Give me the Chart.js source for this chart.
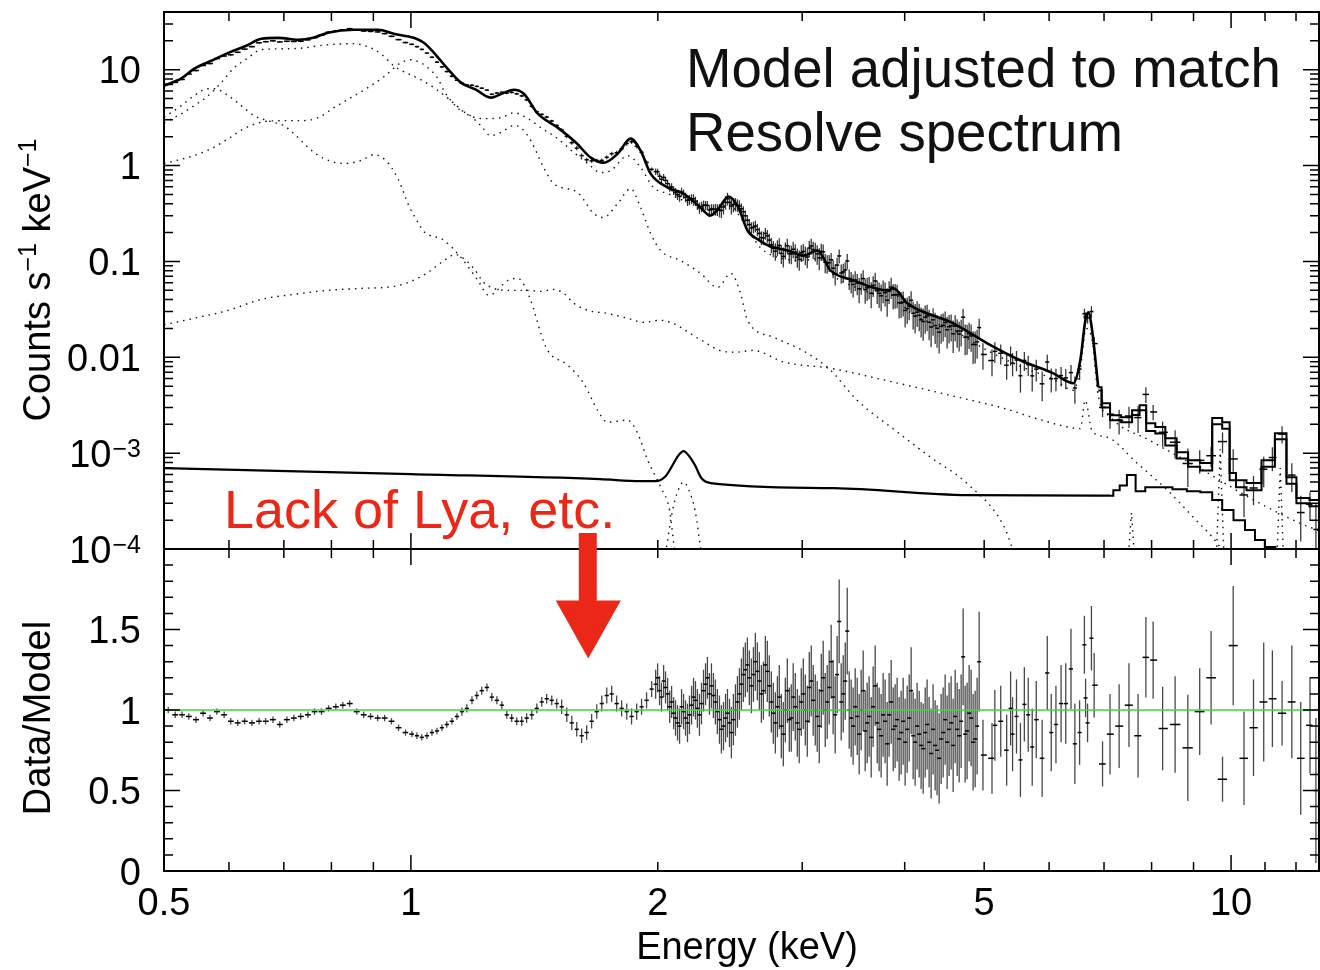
<!DOCTYPE html>
<html>
<head>
<meta charset="utf-8">
<title>Resolve spectrum</title>
<script src="https://cdn.jsdelivr.net/npm/chart.js@4.4.1/dist/chart.umd.min.js"></script>
<style>
  html, body { margin: 0; padding: 0; background: #fff; }
  #wrap { position: relative; width: 1320px; height: 970px; overflow: hidden; background: #fff; }
  canvas { position: absolute; left: 0; }
  #top { top: 0; }
  #bottom { top: 530px; }
</style>
</head>
<body>
<div id="wrap">
  <canvas id="top" width="1320" height="580"></canvas>
  <canvas id="bottom" width="1320" height="440"></canvas>
</div>
<script>
// ---- observed spectrum (bin centre energies, keV) ----
const energy = [
  0.506, 0.516, 0.526, 0.536, 0.547, 0.558, 0.569, 0.580, 0.592, 0.603,
  0.615, 0.627, 0.640, 0.653, 0.665, 0.679, 0.692, 0.706, 0.720, 0.734,
  0.749, 0.763, 0.778, 0.794, 0.810, 0.826, 0.842, 0.859, 0.876, 0.893,
  0.911, 0.929, 0.947, 0.966, 0.985,
  1.003, 1.017, 1.031, 1.046, 1.061, 1.076, 1.091, 1.106, 1.122, 1.138,
  1.154, 1.170, 1.187, 1.203, 1.220, 1.238, 1.255, 1.273, 1.291, 1.309,
  1.327, 1.346, 1.365, 1.384, 1.404, 1.424, 1.444, 1.464, 1.485, 1.506,
  1.527, 1.549, 1.571, 1.593, 1.615, 1.638, 1.661, 1.685, 1.709, 1.733,
  1.757, 1.782, 1.807, 1.833, 1.858, 1.885, 1.911, 1.938, 1.966,
  1.988, 2.010, 2.033, 2.056, 2.079, 2.102, 2.126, 2.150, 2.174, 2.199,
  2.223, 2.248, 2.274, 2.299, 2.325, 2.351, 2.378, 2.405, 2.432, 2.459,
  2.487, 2.515, 2.543, 2.572, 2.601, 2.630, 2.660, 2.690, 2.720, 2.751,
  2.782, 2.813, 2.845, 2.877, 2.909, 2.942, 2.975, 3.009, 3.043, 3.077,
  3.112, 3.147, 3.182, 3.218, 3.254, 3.291, 3.328, 3.366, 3.404, 3.442,
  3.481, 3.520, 3.560, 3.600, 3.641, 3.682, 3.723, 3.765, 3.808, 3.851,
  3.894, 3.938, 3.983, 4.028, 4.073, 4.119, 4.166, 4.213, 4.260, 4.308,
  4.357, 4.406, 4.456, 4.506, 4.557, 4.609, 4.661, 4.713, 4.766, 4.820,
  4.875, 4.930,
  4.983, 5.111, 5.152, 5.238, 5.326, 5.385, 5.415, 5.475, 5.536, 5.597,
  5.658, 5.722, 5.787, 5.884, 5.969, 6.036, 6.116, 6.205, 6.287, 6.380,
  6.450, 6.536, 6.625, 6.647, 6.684, 6.757, 6.809, 6.971, 7.119, 7.303,
  7.508, 7.702, 7.873, 8.035, 8.252, 8.546, 8.857, 9.157, 9.455, 9.763,
  10.06, 10.37, 10.65, 10.96, 11.23, 11.54, 11.86, 12.16, 12.48, 12.69
];

// counts s^-1 keV^-1
const counts = [
  7.10, 7.38, 7.91, 9.01, 9.81, 11.07, 11.6, 13.07, 13.9, 14.3,
  15.2, 16.4, 17.4, 19.1, 19.6, 20.0, 19.5, 19.8, 19.7, 19.8,
  20.5, 21.6, 22.9, 24.6, 25.3, 26.1, 26.8, 25.8, 25.3, 25.1,
  24.8, 23.8, 22.3, 20.6, 19.2,
  18.4, 17.4, 16.3, 14.9, 13.5, 12.0, 10.7, 9.57, 8.55, 7.77,
  7.21, 6.93, 6.88, 6.70, 6.42, 6.13, 5.54, 5.71, 5.81, 5.70,
  5.80, 5.60, 5.33, 4.85, 4.15, 3.64, 3.42, 3.21, 2.92, 2.62,
  2.35, 2.02, 1.73, 1.52, 1.27, 1.15, 1.12, 1.13, 1.13, 1.22,
  1.33, 1.36, 1.50, 1.70, 1.77, 1.59, 1.37, 1.08, 0.914,
  0.865, 0.776, 0.754, 0.649, 0.597, 0.522, 0.477, 0.506, 0.435, 0.449,
  0.425, 0.362, 0.386, 0.384, 0.353, 0.351, 0.343, 0.370, 0.451, 0.378,
  0.396, 0.378, 0.330, 0.269, 0.223, 0.234, 0.196, 0.176, 0.185, 0.149,
  0.128, 0.147, 0.113, 0.146, 0.120, 0.125, 0.105, 0.127, 0.111, 0.145,
  0.128, 0.109, 0.126, 0.0953, 0.104, 0.0745, 0.114, 0.0777, 0.101, 0.0618,
  0.0640, 0.0518, 0.0662, 0.0530, 0.0465, 0.0626, 0.0465, 0.0499, 0.0394, 0.0540,
  0.0451, 0.0371, 0.0376, 0.0322, 0.0393, 0.0269, 0.0274, 0.0236, 0.0270, 0.0207,
  0.0214, 0.0183, 0.0216, 0.0194, 0.0213, 0.0211, 0.0175, 0.0262, 0.0162, 0.0167,
  0.0136, 0.0204,
  0.0107, 0.00925, 0.01153, 0.01101, 0.00825, 0.01057, 0.00868, 0.00938, 0.00642, 0.00927,
  0.00837, 0.0064, 0.00752, 0.00529, 0.00893, 0.00596, 0.0060, 0.00645, 0.0061, 0.00692,
  0.00478, 0.00753, 0.0285, 0.0264, 0.0258, 0.030, 0.0139, 0.0030, 0.00255, 0.0022,
  0.00244, 0.00235, 0.0041, 0.00269, 0.00165, 0.0013, 0.00078, 0.00084, 0.00094, 0.00132,
  0.00087, 0.000366, 0.000433, 0.00068, 0.0009, 0.00158, 0.00059, 0.00024, 0.000293, 0.00016
];

// data / model
const ratio = [
  1.00, 0.97, 0.97, 0.96, 0.94, 0.98, 0.95, 0.99, 0.97, 0.93,
  0.92, 0.93, 0.92, 0.93, 0.93, 0.94, 0.91, 0.94, 0.95, 0.96,
  0.97, 0.99, 0.99, 1.01, 1.02, 1.03, 1.04, 0.99, 0.97, 0.96,
  0.95, 0.95, 0.93, 0.89, 0.86,
  0.85, 0.84, 0.83, 0.84, 0.86, 0.87, 0.89, 0.91, 0.93, 0.96,
  0.99, 1.01, 1.06, 1.09, 1.12, 1.14, 1.08, 1.06, 1.03, 0.97,
  0.95, 0.93, 0.93, 0.95, 0.97, 1.01, 1.05, 1.07, 1.06, 1.04,
  1.02, 0.97, 0.92, 0.88, 0.84, 0.86, 0.93, 0.99, 1.04, 1.09,
  1.10, 1.04, 1.01, 0.99, 0.96, 0.99, 1.02, 1.06, 1.13,
  1.16, 1.12, 1.18, 1.10, 1.05, 0.95, 0.90, 0.99, 0.92, 1.03,
  1.06, 0.97, 1.12, 1.20, 1.15, 1.05, 0.94, 0.90, 0.98, 0.86,
  1.00, 1.10, 1.22, 1.28, 1.15, 1.30, 1.18, 1.12, 1.24, 1.05,
  0.92, 1.08, 0.85, 1.12, 0.95, 1.02, 0.88, 1.10, 0.93, 1.18,
  1.00, 0.90, 1.20, 1.05, 1.30, 0.97, 1.55, 1.10, 1.49, 0.95,
  1.02, 0.85, 1.12, 0.92, 0.83, 1.15, 0.88, 0.97, 0.79, 1.05,
  0.90, 0.82, 0.93, 0.88, 1.12, 0.80, 0.85, 0.76, 0.91, 0.73,
  0.78, 0.70, 0.86, 0.80, 0.92, 0.96, 0.84, 1.33, 0.87, 0.95,
  0.82, 1.30,
  0.72, 0.70, 0.905, 0.93, 0.75, 1.01, 0.85, 0.96, 0.69, 1.035,
  0.97, 0.77, 0.94, 0.70, 1.23, 0.86, 0.91, 1.04, 1.04, 1.255,
  0.79, 0.86, 1.405, 1.075, 0.92, 1.446, 1.154, 0.665, 0.85, 0.90,
  1.03, 0.84, 1.327, 1.31, 0.885, 0.91, 0.765, 0.99, 1.20, 0.57,
  1.40, 0.70, 0.89, 1.05, 1.07, 0.98, 1.05, 0.70, 0.905, 0.50
];

// 1-sigma error on data / model
const ratioErr = [
  0.02, 0.02, 0.02, 0.02, 0.02, 0.02, 0.02, 0.02, 0.02, 0.02,
  0.02, 0.02, 0.02, 0.02, 0.02, 0.02, 0.02, 0.02, 0.02, 0.02,
  0.02, 0.02, 0.02, 0.02, 0.02, 0.02, 0.02, 0.02, 0.02, 0.02,
  0.02, 0.02, 0.02, 0.02, 0.02,
  0.02, 0.02, 0.02, 0.02, 0.02, 0.02, 0.02, 0.02, 0.02, 0.02,
  0.025, 0.025, 0.025, 0.025, 0.025, 0.025, 0.025, 0.025, 0.025, 0.025,
  0.025, 0.025, 0.03, 0.03, 0.03, 0.03, 0.03, 0.03, 0.03, 0.03,
  0.045, 0.045, 0.045, 0.045, 0.045, 0.045, 0.045, 0.045, 0.05, 0.05,
  0.05, 0.05, 0.05, 0.05, 0.05, 0.05, 0.05, 0.05, 0.05,
  0.09, 0.09, 0.10, 0.10, 0.10, 0.11, 0.11, 0.11, 0.12, 0.12,
  0.12, 0.13, 0.13, 0.13, 0.14, 0.14, 0.15, 0.15, 0.15, 0.16,
  0.16, 0.16, 0.17, 0.17, 0.17, 0.18, 0.18, 0.18, 0.19, 0.19,
  0.19, 0.20, 0.20, 0.20, 0.21, 0.21, 0.21, 0.22, 0.22, 0.22,
  0.22, 0.23, 0.23, 0.23, 0.23, 0.24, 0.26, 0.24, 0.27, 0.24,
  0.24, 0.25, 0.25, 0.25, 0.25, 0.25, 0.26, 0.26, 0.26, 0.26,
  0.26, 0.26, 0.27, 0.27, 0.27, 0.27, 0.27, 0.28, 0.28, 0.28,
  0.28, 0.28, 0.28, 0.29, 0.29, 0.29, 0.29, 0.30, 0.30, 0.30,
  0.30, 0.31,
  0.22, 0.22, 0.22, 0.22, 0.22, 0.23, 0.23, 0.23, 0.23, 0.23,
  0.23, 0.24, 0.24, 0.24, 0.23, 0.24, 0.24, 0.24, 0.25, 0.25,
  0.25, 0.20, 0.18, 0.12, 0.12, 0.20, 0.20, 0.14, 0.25, 0.26,
  0.26, 0.26, 0.25, 0.24, 0.26, 0.30, 0.33, 0.27, 0.29, 0.14,
  0.37, 0.29, 0.30, 0.37, 0.30, 0.20, 0.35, 0.35, 0.30, 0.45
];

// second set of bins, interleaved with the ones above between 2 and 4.9 keV
const energyAlt = [
  1.999, 2.021, 2.044, 2.068, 2.091, 2.114, 2.138, 2.162, 2.186, 2.211,
  2.235, 2.261, 2.287, 2.312, 2.338, 2.364, 2.391, 2.419, 2.446, 2.473,
  2.501, 2.529, 2.557, 2.586, 2.616, 2.645, 2.675, 2.705, 2.735, 2.766,
  2.798, 2.829, 2.861, 2.893, 2.925, 2.959, 2.992, 3.026, 3.060, 3.094,
  3.129, 3.165, 3.200, 3.236, 3.272, 3.309, 3.347, 3.385, 3.423, 3.461,
  3.501, 3.540, 3.580, 3.620, 3.661, 3.703, 3.744, 3.786, 3.829, 3.873,
  3.916, 3.960, 4.005, 4.051, 4.096, 4.142, 4.189, 4.237, 4.284, 4.332,
  4.381, 4.431, 4.481, 4.531, 4.583, 4.635, 4.687, 4.740, 4.793, 4.847,
  4.902
];
const countsAlt = [
  0.863, 0.718, 0.700, 0.591, 0.548, 0.497, 0.530, 0.467, 0.440, 0.451,
  0.391, 0.373, 0.385, 0.344, 0.349, 0.346, 0.341, 0.413, 0.414, 0.392,
  0.386, 0.354, 0.299, 0.242, 0.228, 0.215, 0.177, 0.196, 0.167, 0.137,
  0.140, 0.121, 0.131, 0.120, 0.134, 0.111, 0.123, 0.117, 0.138, 0.133,
  0.120, 0.127, 0.098, 0.0972, 0.0848, 0.0917, 0.0757, 0.0815, 0.0663, 0.0575,
  0.0593, 0.060, 0.0507, 0.0545, 0.0563, 0.0493, 0.0438, 0.0471, 0.0491, 0.0446,
  0.0448, 0.0368, 0.0308, 0.0340, 0.0288, 0.0296, 0.0246, 0.0261, 0.0232, 0.0246,
  0.0201, 0.0210, 0.0231, 0.0208, 0.0176, 0.0188, 0.0188, 0.0162, 0.0176, 0.0136,
  0.0145
];
const ratioAlt = [
  1.20, 1.08, 1.14, 1.02, 0.98, 0.92, 1.02, 0.95, 0.97, 1.08,
  1.01, 1.04, 1.16, 1.10, 1.09, 0.99, 0.88, 0.95, 0.92, 0.94,
  1.05, 1.16, 1.25, 1.20, 1.22, 1.24, 1.10, 1.28, 1.15, 0.98,
  1.02, 0.90, 1.00, 0.94, 1.08, 0.92, 1.05, 1.00, 1.14, 1.06,
  0.96, 1.12, 1.00, 1.14, 1.08, 1.22, 1.05, 1.18, 1.00, 0.90,
  0.96, 1.00, 0.87, 0.96, 1.02, 0.92, 0.84, 0.93, 0.97, 0.88,
  0.94, 0.86, 0.80, 0.95, 0.84, 0.90, 0.78, 0.86, 0.80, 0.88,
  0.75, 0.82, 0.94, 0.88, 0.78, 0.88, 0.93, 0.85, 0.98, 0.80,
  0.90
];
const ratioErrAlt = [
  0.09, 0.09, 0.10, 0.10, 0.10, 0.11, 0.11, 0.11, 0.12, 0.12,
  0.12, 0.13, 0.13, 0.13, 0.14, 0.14, 0.15, 0.15, 0.15, 0.16,
  0.16, 0.16, 0.17, 0.17, 0.17, 0.18, 0.18, 0.18, 0.19, 0.19,
  0.19, 0.20, 0.20, 0.20, 0.21, 0.21, 0.21, 0.22, 0.22, 0.22,
  0.22, 0.23, 0.23, 0.23, 0.23, 0.24, 0.24, 0.24, 0.24, 0.24,
  0.24, 0.25, 0.25, 0.25, 0.25, 0.25, 0.26, 0.26, 0.26, 0.26,
  0.26, 0.26, 0.27, 0.27, 0.27, 0.27, 0.27, 0.28, 0.28, 0.28,
  0.28, 0.28, 0.28, 0.29, 0.29, 0.29, 0.29, 0.30, 0.30, 0.30,
  0.30
];

// ---- total model, smooth part ----
const modelE = [
  0.500, 0.525, 0.544, 0.571, 0.599, 0.630, 0.657, 0.689, 0.729, 0.760,
  0.792, 0.852, 0.912, 0.953, 1.008, 1.037, 1.067, 1.109, 1.151, 1.200,
  1.251, 1.298, 1.335, 1.373, 1.428, 1.510, 1.589, 1.657, 1.718, 1.787,
  1.853, 1.906, 1.960, 2.056, 2.150, 2.255, 2.319, 2.372, 2.439, 2.508,
  2.573, 2.660, 2.745, 2.879, 3.011, 3.131, 3.248, 3.464, 3.811, 3.876,
  4.031, 4.585, 5.044, 5.534, 6.071, 6.422, 6.549, 6.643, 6.699, 6.770,
  6.887
];
const modelRate = [
  6.8, 8.1, 10.2, 12.4, 15.0, 17.8, 21.0, 21.5, 20.5, 21.5,
  24.3, 26.1, 26.1, 23.7, 21.5, 19.1, 15.0, 10.2, 7.33, 6.19,
  5.11, 5.75, 6.19, 5.62, 3.48, 2.49, 1.74, 1.21, 1.07, 1.33,
  1.91, 1.43, 0.825, 0.590, 0.511, 0.365, 0.301, 0.356, 0.475, 0.365,
  0.210, 0.166, 0.143, 0.130, 0.115, 0.130, 0.0806, 0.0634, 0.0499, 0.0523,
  0.0365, 0.0226, 0.0140, 0.0093, 0.0068, 0.00536, 0.0093, 0.0243, 0.0294, 0.0191,
  0.00487
];
// total model above 6.9 keV, binned (two response versions)
const histE = [6.887, 7.02, 7.22, 7.47, 7.68, 7.79, 7.97, 8.20, 8.43, 8.74, 8.99,
  9.35, 9.62, 9.89, 10.03, 10.25, 10.64, 11.15, 11.47, 11.90, 12.13, 12.8];
const histA = [0.00487, 0.00332, 0.00249, 0.00237, 0.0028, 0.00316, 0.00205, 0.00187, 0.00143, 0.00102, 0.000845,
  0.000787, 0.00232, 0.0021, 0.00062, 0.000523, 0.000487, 0.000845, 0.00161, 0.00056, 0.00034, 0.000324];
const histB = [0.0045, 0.0030, 0.0022, 0.0021, 0.0025, 0.0028, 0.0017, 0.0016, 0.0012, 0.00088, 0.00072,
  0.00066, 0.0020, 0.0018, 0.00052, 0.00044, 0.00041, 0.00072, 0.0014, 0.00048, 0.00030, 0.00028];

// ---- background model ----
const bkgE = [0.5, 1.0, 1.70, 1.906, 1.988, 2.044, 2.085, 2.12, 2.15, 2.18, 2.22, 2.26, 2.32, 3.28, 4.77, 7.12];
const bkgRate = [6.98e-4, 6.04e-4, 5.36e-4, 5.10e-4, 5.10e-4, 5.75e-4, 7.5e-4, 9.5e-4, 1.05e-3, 9.5e-4,
  7.5e-4, 5.5e-4, 4.87e-4, 4.31e-4, 3.65e-4, 3.6e-4];
const bkgHistE = [7.12, 7.25, 7.38, 7.55, 7.75, 7.97, 8.3, 8.67, 9.0, 9.35, 9.62, 9.89, 10.25, 10.55, 10.84, 11.15, 11.5];
const bkgHist = [3.6e-4, 4.1e-4, 4.6e-4, 5.9e-4, 4.0e-4, 4.4e-4, 4.4e-4, 4.2e-4, 4.0e-4, 3.9e-4,
  3.24e-4, 2.55e-4, 2.0e-4, 1.58e-4, 1.24e-4, 1.05e-4, 8e-5];

// ---- model components (dotted) ----
const hotE = [0.500, 0.525, 0.544, 0.566, 0.587, 0.609, 0.633, 0.657, 0.720, 0.792,
  0.852, 0.886, 0.919, 0.953, 0.992, 1.028, 1.067, 1.119, 1.173, 1.227,
  1.287, 1.335, 1.389, 1.440, 1.510, 1.581, 1.643, 1.704, 1.753, 1.838,
  1.906, 1.976, 2.056, 2.150, 2.255, 2.319, 2.386, 2.439, 2.523, 2.595,
  2.666, 2.745, 2.985, 3.16, 3.29, 3.464, 3.811, 3.89, 4.031, 4.585,
  5.044, 5.534, 6.071, 6.422, 6.549, 6.66, 6.77, 6.887, 7.12, 7.97,
  9.17, 10.55, 12.13, 12.8];
const hotRate = [2.80, 3.47, 4.21, 5.36, 7.31, 10.5, 13.3, 16.2, 16.6, 18.2,
  18.7, 17.4, 14.7, 11.0, 9.08, 7.87, 6.49, 4.75, 3.40, 3.09,
  3.16, 3.56, 3.09, 2.49, 1.91, 1.36, 1.05, 0.845, 0.887, 1.27,
  0.953, 0.590, 0.511, 0.431, 0.356, 0.294, 0.340, 0.402, 0.287, 0.196,
  0.140, 0.118, 0.102, 0.107, 0.069, 0.0549, 0.0431, 0.0453, 0.0309, 0.0191,
  0.0118, 0.00805, 0.0059, 0.00453, 0.00768, 0.0200, 0.0150, 0.00398, 0.0024, 0.00135,
  0.00069, 0.00034, 0.000186, 0.000155];

const warmE = [0.500, 0.544, 0.571, 0.599, 0.626, 0.662, 0.700, 0.735, 0.771, 0.806,
  0.845, 0.886, 0.927, 0.972, 1.000, 1.028, 1.049, 1.079, 1.097, 1.119,
  1.151, 1.173, 1.217, 1.251, 1.287, 1.335, 1.361, 1.400, 1.452, 1.493,
  1.597, 1.671, 1.718, 1.787, 1.853, 1.906, 1.960, 2.016, 2.133, 2.255,
  2.366, 2.455, 2.523, 2.573, 2.768, 3.045, 3.248, 3.50, 3.89, 4.30,
  4.76, 5.29, 5.41, 5.5];
const warmRate = [1.05, 1.27, 1.50, 1.91, 2.43, 2.87, 2.94, 2.94, 3.16, 4.02,
  5.11, 6.49, 8.45, 11.8, 12.7, 11.8, 10.5, 8.06, 6.04, 4.75,
  3.74, 3.48, 2.61, 2.05, 2.21, 2.61, 2.49, 1.82, 0.953, 0.649,
  0.524, 0.316, 0.287, 0.402, 0.575, 0.365, 0.196, 0.130, 0.102, 0.0750,
  0.0536, 0.0750, 0.0464, 0.0243, 0.0162, 0.0110, 0.00733, 0.00356, 0.00174, 0.000908,
  0.000487, 0.000170, 0.000102, 0.00007];

const coolE = [0.500, 0.525, 0.544, 0.566, 0.575, 0.599, 0.621, 0.644, 0.675, 0.700,
  0.720, 0.741, 0.762, 0.784, 0.829, 0.869, 0.902, 0.932, 0.964, 0.994,
  1.020, 1.037, 1.097, 1.151, 1.207, 1.245, 1.313, 1.350, 1.400, 1.440,
  1.468, 1.553, 1.624, 1.689, 1.737, 1.838, 1.890, 1.944, 2.016, 2.067,
  2.095, 2.11];
const coolRate = [3.2, 4.22, 5.36, 6.34, 6.34, 5.36, 4.22, 3.32, 2.87, 2.61,
  2.15, 1.69, 1.37, 1.18, 1.05, 1.13, 1.30, 1.13, 0.733, 0.383,
  0.255, 0.205, 0.166, 0.110, 0.0634, 0.0443, 0.0634, 0.0665, 0.0393, 0.0178,
  0.0118, 0.00826, 0.00536, 0.0028, 0.0021, 0.00221, 0.00161, 0.000845, 0.000443, 0.000255,
  0.000102, 0.00007];

const softE = [0.500, 0.544, 0.599, 0.657, 0.720, 0.792, 0.869, 0.953, 1.000, 1.049,
  1.097, 1.134, 1.160, 1.193, 1.227, 1.262, 1.324, 1.389, 1.440, 1.493,
  1.536, 1.581, 1.643, 1.737, 1.838, 1.922, 2.016, 2.262, 2.378, 2.489,
  2.610, 2.856, 3.248, 3.79, 4.65, 5.28, 5.72, 6.33, 6.55, 6.64,
  6.77, 7.06, 7.68, 8.36, 8.99, 9.62, 9.8];
const softRate = [0.0218, 0.0255, 0.0309, 0.0402, 0.0453, 0.0499, 0.0523, 0.0549, 0.0619, 0.0768,
  0.102, 0.118, 0.107, 0.0845, 0.0604, 0.0523, 0.0499, 0.0499, 0.0487, 0.0511,
  0.0464, 0.0365, 0.0309, 0.0287, 0.0255, 0.0232, 0.0243, 0.0150, 0.0118, 0.0113,
  0.0118, 0.00887, 0.00768, 0.00575, 0.00383, 0.00294, 0.00237, 0.00187, 0.00180, 0.00356,
  0.0017, 0.00147, 0.000787, 0.000412, 0.000215, 0.000115, 0.00009];

// background Gaussian at 2.15 keV and narrow lines
const gaussE = [2.044, 2.085, 2.12, 2.15, 2.18, 2.22, 2.26];
const gaussRate = [0.00009, 0.000255, 0.00042, 0.0005, 0.00042, 0.000255, 0.00009];
const narrowE = [7.50, 7.56, 7.62, 7.62, 9.60, 9.70, 9.80, 9.80, 11.38, 11.48, 11.58];
const narrowRate = [0.00009, 0.00024, 0.00009, null, 0.00009, 0.0011, 0.00009, null, 0.00009, 0.0007, 0.00009];

// ---- axes ----
const xTickValues = [0.5, 1, 2, 5, 10];
const xTickLabels = ['0.5', '1', '2', '5', '10'];
const countTickValues = [10, 1, 0.1, 0.01, 1e-3, 1e-4];
const countTickLabels = ['10', '1', '0.1', '0.01', '10^-3', '10^-4'];
const ratioTickValues = [1.5, 1, 0.5, 0];
const ratioTickLabels = ['1.5', '1', '0.5', '0'];

const FONT = '"Liberation Sans", Arial, Helvetica, sans-serif';
const RED = '#eb2818';

function pts(xs, ys) { return xs.map((x, i) => ({ x: x, y: ys[i] })); }

function curve(xs, ys, extra) {
  return Object.assign({
    data: pts(xs, ys), borderColor: '#000', borderWidth: 2.4, pointRadius: 0,
    cubicInterpolationMode: 'monotone', clip: 0, fill: false
  }, extra || {});
}
const dotted = { borderDash: [1.5, 5], borderWidth: 1.4, borderColor: '#111' };

// error bars drawn under the datasets
const errorBars = {
  id: 'errorBars',
  beforeDatasetsDraw(chart) {
    const { ctx, chartArea: a } = chart;
    const ys = chart.scales.y;
    ctx.save();
    ctx.beginPath();
    ctx.rect(a.left, a.top, a.right - a.left, a.bottom - a.top);
    ctx.clip();
    chart.data.datasets.forEach((ds, di) => {
      if (!ds.yErr) return;
      const el = chart.getDatasetMeta(di).data;
      el.forEach((p, i) => {
        const v = ds.data[i].y, e = ds.yErr[i];
        const lo = ys.type === 'logarithmic' ? Math.max(v - e, ys.min / 10) : v - e;
        const yHi = ys.getPixelForValue(v + e), yLo = ys.getPixelForValue(lo);
        const gl = i > 0 ? p.x - el[i - 1].x : el[i + 1].x - p.x;
        const gr = i < el.length - 1 ? el[i + 1].x - p.x : gl;
        ctx.strokeStyle = ds.barColor;
        ctx.lineWidth = 1.3;
        ctx.beginPath(); ctx.moveTo(p.x, yHi); ctx.lineTo(p.x, yLo); ctx.stroke();
        ctx.strokeStyle = '#000';
        ctx.lineWidth = 1.5;
        ctx.beginPath(); ctx.moveTo(p.x - Math.max(gl * 0.42, 2), p.y); ctx.lineTo(p.x + Math.max(gr * 0.42, 2), p.y); ctx.stroke();
      });
    });
    ctx.restore();
  }
};

function frame(chart, yMajor, yMinor) {
  const { ctx, chartArea: a, scales: { x, y } } = chart;
  const xMajor = [1, 10], xMinor = [0.6, 0.7, 0.8, 0.9, 2, 3, 4, 5, 6, 7, 8, 9, 11, 12];
  ctx.save();
  ctx.strokeStyle = '#000';
  ctx.lineWidth = 1.5;
  ctx.beginPath();
  const tx = (v, len) => { const px = x.getPixelForValue(v); ctx.moveTo(px, a.top); ctx.lineTo(px, a.top + len); ctx.moveTo(px, a.bottom); ctx.lineTo(px, a.bottom - len); };
  const ty = (v, len) => { const py = y.getPixelForValue(v); ctx.moveTo(a.left, py); ctx.lineTo(a.left + len, py); ctx.moveTo(a.right, py); ctx.lineTo(a.right - len, py); };
  xMajor.forEach(v => tx(v, 16));
  xMinor.forEach(v => tx(v, 9));
  yMajor.forEach(v => ty(v, 16));
  yMinor.forEach(v => ty(v, 9));
  ctx.stroke();
  ctx.lineWidth = 2;
  ctx.strokeRect(a.left, a.top, a.right - a.left, a.bottom - a.top);
  ctx.restore();
}

function label(ctx, text, x, y, align) {
  const parts = text.split('^');
  const base = parts[0];
  const sup = parts[1] ? parts[1].replace('-', '\u2212') : '';
  ctx.font = '38px ' + FONT;
  const wb = ctx.measureText(base).width;
  ctx.font = '25px ' + FONT;
  const ws = sup ? ctx.measureText(sup).width + 1 : 0;
  const left = align === 'right' ? x - wb - ws : x - (wb + ws) / 2;
  ctx.textAlign = 'left';
  ctx.textBaseline = 'alphabetic';
  ctx.font = '38px ' + FONT;
  ctx.fillText(base, left, y);
  if (sup) { ctx.font = '25px ' + FONT; ctx.fillText(sup, left + wb + 1, y - 10); }
}

function rich(ctx, parts, cx, cy, rotate) {
  let total = 0;
  parts.forEach(p => { ctx.font = p[1] + 'px ' + FONT; total += ctx.measureText(p[0]).width; });
  ctx.save();
  ctx.translate(cx, cy);
  if (rotate) ctx.rotate(-Math.PI / 2);
  ctx.textAlign = 'left';
  ctx.textBaseline = 'alphabetic';
  let px = -total / 2;
  parts.forEach(p => { ctx.font = p[1] + 'px ' + FONT; ctx.fillText(p[0], px, -p[2]); px += ctx.measureText(p[0]).width; });
  ctx.restore();
}

const topDecor = {
  id: 'topDecor',
  afterDraw(chart) {
    const { ctx, chartArea: a, scales: { y } } = chart;
    const minor = [];
    for (let n = -4; n <= 1; n++) for (let k = 2; k <= 9; k++) { const v = k * Math.pow(10, n); if (v < y.max) minor.push(v); }
    frame(chart, countTickValues, minor);
    ctx.save();
    ctx.fillStyle = '#000';
    countTickValues.forEach((v, i) => label(ctx, countTickLabels[i], a.left - 23, y.getPixelForValue(v) + 13.5, 'right'));
    rich(ctx, [['Counts s', 38, 0], ['\u22121', 25, 14], [' keV', 38, 0], ['\u22121', 25, 14]], 50, 280, true);
    ctx.font = '54.6px ' + FONT;
    ctx.textAlign = 'left';
    ctx.fillStyle = '#111';
    ctx.fillText('Model adjusted to match', a.left + 522, a.top + 75);
    ctx.fillText('Resolve spectrum', a.left + 522, a.top + 139);
    ctx.font = '54px ' + FONT;
    ctx.fillStyle = RED;
    ctx.fillText('Lack of Lya, etc.', a.left + 60, a.top + 516);
    ctx.restore();
  }
};

const bottomDecor = {
  id: 'bottomDecor',
  afterDraw(chart) {
    const { ctx, chartArea: a, scales: { x, y } } = chart;
    const minor = [];
    for (let k = 1; k < 20; k++) if (k % 5) minor.push(k / 10);
    frame(chart, [0, 0.5, 1, 1.5], minor);
    ctx.save();
    ctx.fillStyle = '#000';
    ratioTickValues.forEach((v, i) => label(ctx, ratioTickLabels[i], a.left - 23, y.getPixelForValue(v) + 13.5, 'right'));
    xTickValues.forEach((v, i) => label(ctx, xTickLabels[i], x.getPixelForValue(v), a.bottom + 44, 'center'));
    rich(ctx, [['Energy (keV)', 38, 0]], a.left + 583, a.bottom + 88, false);
    rich(ctx, [['Data/Model', 38, 0]], 50, a.top + 169, true);
    // red arrow pointing at the 1.6 keV deficit
    const ax = x.getPixelForValue(1.643), yHead = y.getPixelForValue(1.68), yTip = y.getPixelForValue(1.32);
    ctx.fillStyle = RED;
    ctx.fillRect(ax - 9, a.top - 16, 18, yHead - a.top + 17);
    ctx.beginPath();
    ctx.moveTo(ax - 32, yHead); ctx.lineTo(ax + 33, yHead); ctx.lineTo(ax + 0.5, yTip); ctx.closePath();
    ctx.fill();
    ctx.restore();
  }
};

const countsErr = counts.map((c, i) => c * ratioErr[i] / ratio[i]);
const countsErrAlt = countsAlt.map((c, i) => c * ratioErrAlt[i] / ratioAlt[i]);

const baseOptions = (yScale, padding) => ({
  responsive: false,
  animation: false,
  devicePixelRatio: 1,
  events: [],
  layout: { padding: padding },
  scales: {
    x: { type: 'logarithmic', min: 0.5, max: 12.8, display: false },
    y: Object.assign({ display: false }, yScale)
  },
  plugins: { legend: { display: false }, tooltip: { enabled: false } }
});

new Chart(document.getElementById('top'), {
  type: 'line',
  data: {
    datasets: [
      curve(modelE, modelRate, { borderWidth: 2.6 }),
      curve(histE, histA, { stepped: 'middle', borderWidth: 2 }),
      curve(histE, histB, { stepped: 'middle', borderWidth: 2 }),
      curve(bkgE, bkgRate, { borderWidth: 2.2 }),
      curve(bkgHistE, bkgHist, { stepped: 'middle', borderWidth: 2 }),
      curve(hotE, hotRate, dotted),
      curve(warmE, warmRate, dotted),
      curve(coolE, coolRate, dotted),
      curve(softE, softRate, dotted),
      curve(gaussE, gaussRate, dotted),
      curve(narrowE, narrowRate, Object.assign({ tension: 0, cubicInterpolationMode: 'default' }, dotted)),
      { data: pts(energy, counts), yErr: countsErr, barColor: 'rgba(0,0,0,0.78)', showLine: false, pointRadius: 0 },
      { data: pts(energyAlt, countsAlt), yErr: countsErrAlt, barColor: 'rgba(0,0,0,0.78)', showLine: false, pointRadius: 0 }
    ]
  },
  options: baseOptions({ type: 'logarithmic', min: 1e-4, max: 40 }, { left: 164, right: 1, top: 12, bottom: 31 }),
  plugins: [errorBars, topDecor]
});

new Chart(document.getElementById('bottom'), {
  type: 'line',
  data: {
    datasets: [
      curve([0.5, 12.8], [1, 1], { borderColor: '#36dd36', borderWidth: 1.3 }),
      { data: pts(energy, ratio), yErr: ratioErr, barColor: 'rgba(0,0,0,0.72)', showLine: false, pointRadius: 0 },
      { data: pts(energyAlt, ratioAlt), yErr: ratioErrAlt, barColor: 'rgba(0,0,0,0.72)', showLine: false, pointRadius: 0 }
    ]
  },
  options: baseOptions({ type: 'linear', min: 0, max: 2 }, { left: 164, right: 1, top: 19, bottom: 99 }),
  plugins: [errorBars, bottomDecor]
});
</script>
</body>
</html>
